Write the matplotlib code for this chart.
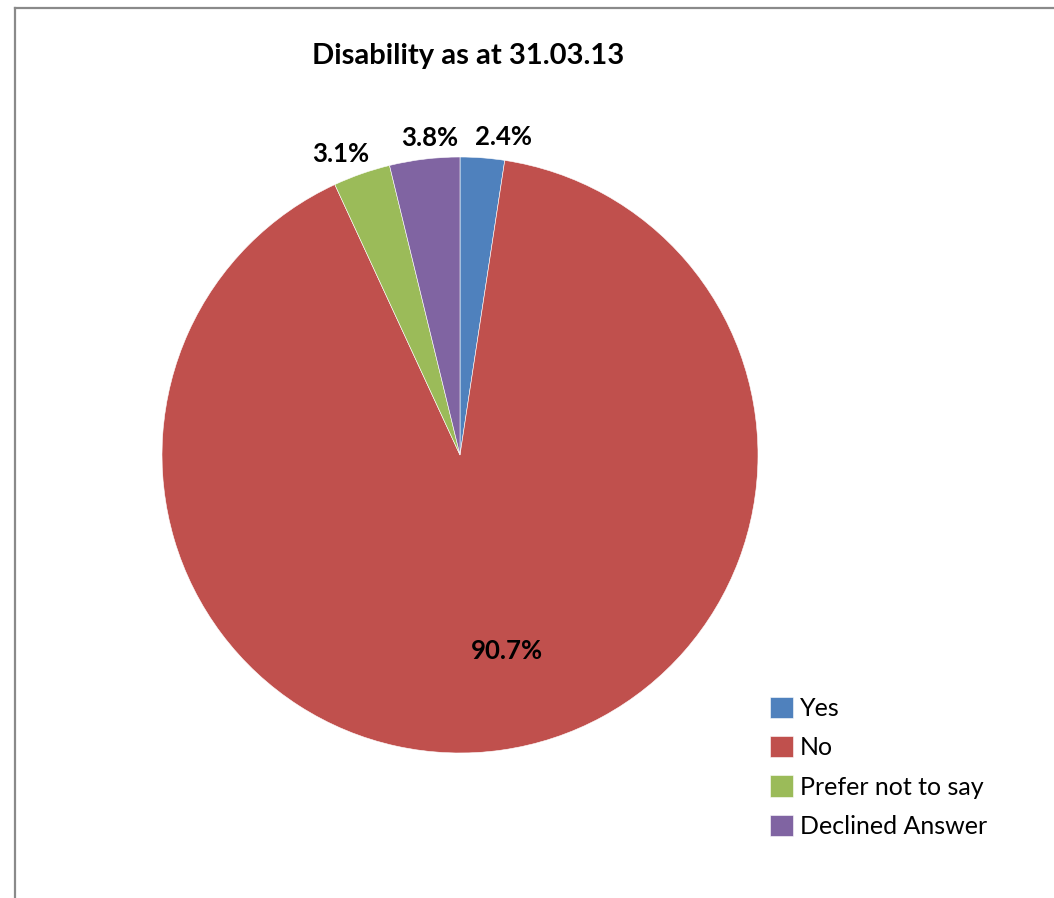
import matplotlib.pyplot as plt
import numpy as np
from matplotlib.lines import Line2D

plt.rcParams['font.family'] = ['Lato', 'DejaVu Sans']

categories = ['Yes', 'No', 'Prefer not to say', 'Declined Answer']
shares = [2.4, 90.7, 3.1, 3.8]
pct_labels = ['2.4%', '90.7%', '3.1%', '3.8%']
colors = ['#4F81BD', '#C0504D', '#9BBB59', '#8064A2']

# label placement: radius (fraction of R) and a small sideways nudge
label_radius = [1.07, 0.665, 1.07, 1.07]
label_nudge = [0.064, 0.064, -0.049, 0.026]

W, H = 1054, 898
fig = plt.figure(figsize=(W / 100, H / 100), dpi=100)

cx, cy, R = 460, 455, 298
ax = fig.add_axes([(cx - R) / W, (H - cy - R) / H, 2 * R / W, 2 * R / H])
wedges, _ = ax.pie(shares, colors=colors, startangle=90, counterclock=False,
                   radius=1.0, wedgeprops=dict(edgecolor='white', linewidth=0.4))
ax.set_xlim(-1, 1)
ax.set_ylim(-1, 1)
ax.set_aspect('equal')
ax.axis('off')

for w, lab, r, dx in zip(wedges, pct_labels, label_radius, label_nudge):
    mid = np.deg2rad((w.theta1 + w.theta2) / 2)
    ax.text(r * np.cos(mid) + dx, r * np.sin(mid), lab, ha='center', va='center',
            fontsize=18.5, fontweight='bold', color='black', clip_on=False)

fig.text(468 / W, 1 - 56 / H, 'Disability as at 31.03.13', ha='center', va='center',
         fontsize=21, fontweight='bold')

leg = fig.legend(wedges, categories, loc='upper left',
                 bbox_to_anchor=(747 / W, 1 - 674 / H), frameon=False,
                 fontsize=18, handlelength=0.95, handleheight=0.95,
                 handletextpad=0.25, labelspacing=0.64)

# chart area border (left and top visible)
fig.add_artist(Line2D([15 / W, 15 / W], [0, 1 - 8 / H], color='#8a8a8a', linewidth=1.6))
fig.add_artist(Line2D([15 / W, 1], [1 - 8 / H, 1 - 8 / H], color='#8a8a8a', linewidth=1.6))

fig.savefig('out.png', dpi=100, facecolor='white')
